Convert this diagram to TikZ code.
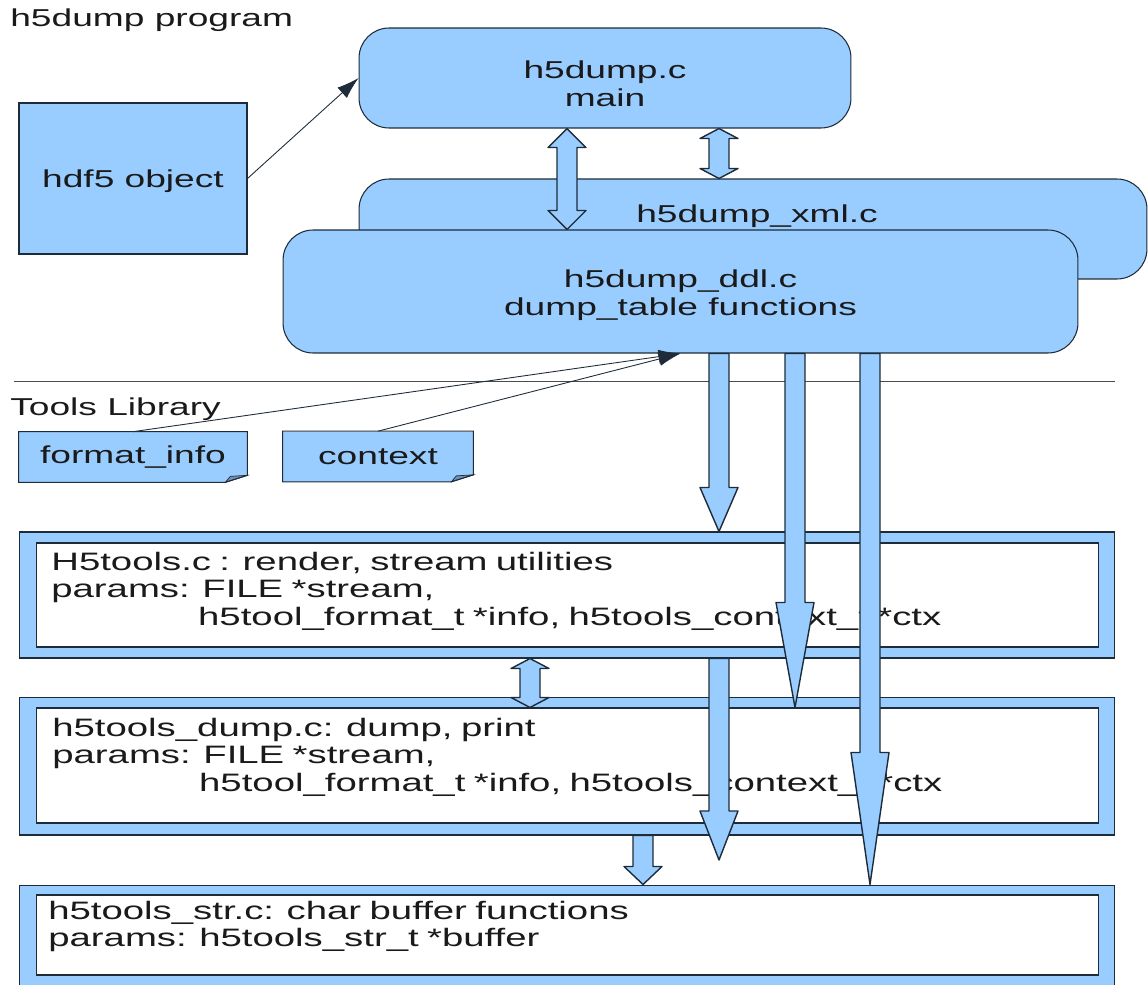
\documentclass[tikz,border=0pt]{standalone}
\usepackage{fontspec}
\setmainfont{Liberation Sans}[FakeStretch=1.52]
\usepackage{tikz}
\usetikzlibrary{calc,arrows.meta}

\definecolor{boxblue}{HTML}{99CCFF}
\definecolor{edgecol}{HTML}{1E2B38}
\definecolor{foldblue}{HTML}{7090BA}
\definecolor{textcol}{HTML}{1A1A1A}

\newcommand{\blockdown}[3]{%
  \filldraw[blockarrow] ($(#1)+(-10,0)$) -- ($(#2)+(-10,-#3)$) -- ($(#2)+(-19,-#3)$) -- (#2)
    -- ($(#2)+(19,-#3)$) -- ($(#2)+(10,-#3)$) -- ($(#1)+(10,0)$) -- cycle;}
\newcommand{\blockboth}[3]{%
  \filldraw[blockarrow] (#1) -- ($(#1)+(19,#3)$) -- ($(#1)+(10,#3)$) -- ($(#2)+(10,-#3)$)
    -- ($(#2)+(19,-#3)$) -- (#2) -- ($(#2)+(-19,-#3)$) -- ($(#2)+(-10,-#3)$)
    -- ($(#1)+(-10,#3)$) -- ($(#1)+(-19,#3)$) -- cycle;}

\begin{document}
\begin{tikzpicture}[x=0.02cm, y=-0.02cm,
    font=\fontsize{13.9pt}{15.9pt}\selectfont, text=textcol,
    rbox/.style={draw=edgecol, fill=boxblue, line width=0.6pt, rounded corners=0.6cm, inner sep=0pt},
    plainbox/.style={draw=edgecol, fill=boxblue, line width=0.6pt, inner sep=0pt},
    framebox/.style={draw=edgecol, fill=boxblue, line width=0.6pt, minimum width=21.92cm, inner sep=0pt},
    innerbox/.style={draw=edgecol, fill=white, line width=0.6pt, minimum width=21.26cm, inner sep=0pt},
    note/.style={fill=boxblue, minimum height=1.0cm, inner sep=0pt},
    listing/.style={anchor=base west, text width=20cm, align=left, inner sep=0pt,
        font=\fontsize{14.35pt}{15.9pt}\selectfont},
    blockarrow/.style={draw=edgecol, fill=boxblue, line width=0.8pt, line join=round},
    thinarrow/.style={draw=edgecol, line width=0.5pt, -{Latex[length=0.44cm, width=0.28cm]}}]

    \useasboundingbox (0,0) rectangle (1148,984);

    % columns of the block arrows
    \coordinate (colA) at (719,0);
    \coordinate (colB) at (795,0);
    \coordinate (colC) at (870,0);
    \coordinate (colD) at (567,0);
    \coordinate (colE) at (530,0);
    \coordinate (colF) at (643,0);
    \coordinate (a4tip) at (719,860);

    \node[anchor=base west, inner sep=0pt] (progtitle) at (10,26) {h5dump program};

    \node[rbox, minimum width=15.76cm, minimum height=2cm] (xml) at (753,229) {};
    \node[anchor=base, inner sep=0pt] (xmltitle) at (757,222) {h5dump\_xml.c};

    \node[rbox, minimum width=15.9cm, minimum height=2.46cm] (ddl) at (680.5,291.5) {};
    \node[align=center, inner sep=0pt] (ddltxt) at (680.5,295) {h5dump\_ddl.c\\dump\_table functions};
    \node[rbox, minimum width=9.84cm, minimum height=2cm] (main) at (605,78) {};
    \node[align=center, inner sep=0pt] (maintxt) at (605,84) {h5dump.c\\main};
    \node[plainbox, minimum width=4.56cm, minimum height=3.02cm] (hdf) at (133,178.5) {};
    \node[inner sep=0pt] (hdftxt) at (133,181) {hdf5 object};

    \draw[thinarrow] (hdf.east) -- (main.west);
    \blockboth{colD |- main.south}{colD |- ddl.north}{19}
    \blockboth{colA |- main.south}{colA |- xml.north}{10}

    % tools library
    \draw[gray!60!black, line width=0.5pt] (14,381) -- (1115,381);
    \node[anchor=base west, inner sep=0pt] (libtitle) at (10,415) {Tools Library};

    \node[note, minimum width=4.56cm] (fmtinfo) at (133,457) {format\_info};
    \fill[white] ($(fmtinfo.south east)+(0,-7)$) -- (fmtinfo.south east) -- ($(fmtinfo.south east)+(-22,0)$) -- cycle;
    \filldraw[fill=foldblue, draw=edgecol, line width=0.4pt] ($(fmtinfo.south east)+(0,-7)$) -- ($(fmtinfo.south east)+(-22,0)$) -- ($(fmtinfo.south east)+(-17,-6)$) -- cycle;
    \draw[edgecol, line width=0.6pt] (fmtinfo.north west) -- (fmtinfo.north east) -- ($(fmtinfo.south east)+(0,-7)$) -- ($(fmtinfo.south east)+(-22,0)$) -- (fmtinfo.south west) -- cycle;

    \node[note, minimum width=3.8cm] (ctxnote) at (378,456.5) {context};
    \fill[white] ($(ctxnote.south east)+(0,-7)$) -- (ctxnote.south east) -- ($(ctxnote.south east)+(-22,0)$) -- cycle;
    \filldraw[fill=foldblue, draw=edgecol, line width=0.4pt] ($(ctxnote.south east)+(0,-7)$) -- ($(ctxnote.south east)+(-22,0)$) -- ($(ctxnote.south east)+(-17,-6)$) -- cycle;
    \draw[edgecol, line width=0.6pt] (ctxnote.north west) -- (ctxnote.north east) -- ($(ctxnote.south east)+(0,-7)$) -- ($(ctxnote.south east)+(-22,0)$) -- (ctxnote.south west) -- cycle;

    \draw[thinarrow] (fmtinfo.north) -- (ddl.south);
    \draw[thinarrow] (ctxnote.north) -- (ddl.south);

    % library layers
    \node[framebox, minimum height=2.52cm] (h5tools) at (567,595) {};
    \node[innerbox, minimum height=2.08cm] (h5toolsin) at (567.5,595) {};
    \node[listing] (h5toolstxt) at (51,570) {H5tools.c : render, stream utilities\\
        params: FILE *stream,\\
        \hphantom{params:\ }h5tool\_format\_t *info, h5tools\_context\_t *ctx};

    \node[framebox, minimum height=2.76cm] (dump) at (567,766) {};
    \node[innerbox, minimum height=2.3cm] (dumpin) at (567.5,765.5) {};
    \node[listing] (dumptxt) at (52,736) {h5tools\_dump.c: dump, print\\
        params: FILE *stream,\\
        \hphantom{params:\ }h5tool\_format\_t *info, h5tools\_context\_t *ctx};

    \node[framebox, minimum height=2.2cm] (strbox) at (567,940) {};
    \node[innerbox, minimum height=1.6cm] (strin) at (567.5,935) {};
    \node[listing] (strtxt) at (48,919) {h5tools\_str.c: char buffer functions\\
        params: h5tools\_str\_t *buffer};

    \blockdown{colA |- ddl.south}{colA |- h5tools.north}{44}
    \blockdown{colB |- ddl.south}{colB |- dumpin.north}{105}
    \blockdown{colC |- ddl.south}{colC |- strbox.north}{132}
    \blockdown{colA |- h5tools.south}{a4tip}{49}
    \blockdown{colF |- dump.south}{colF |- strbox.north}{18}
    \blockboth{colE |- h5tools.south}{colE |- dumpin.north}{10}

\end{tikzpicture}
\end{document}
